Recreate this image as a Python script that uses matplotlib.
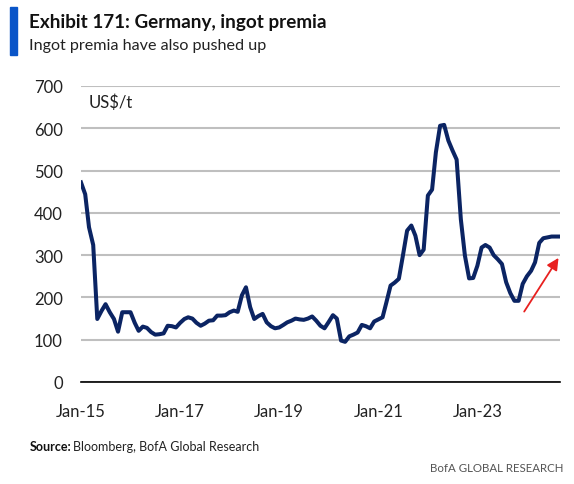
import matplotlib
matplotlib.use("Agg")
import matplotlib.pyplot as plt
from matplotlib.patches import Rectangle
import numpy as np
import pandas as pd

plt.rcParams['font.family'] = ['Lato', 'DejaVu Sans']

dates = pd.date_range("2015-01-01", periods=117, freq="MS")
premia = [472, 444, 366, 324, 149, 168, 184, 165, 149, 119,
          165, 165, 165, 140, 121, 131, 128, 118, 112, 113,
          115, 133, 132, 129, 140, 149, 153, 150, 140, 133,
          138, 145, 146, 157, 157, 158, 165, 169, 166, 205,
          224, 177, 149, 156, 161, 141, 132, 127, 129, 135,
          141, 145, 150, 148, 147, 150, 155, 145, 133, 127,
          142, 158, 150, 98, 95, 108, 112, 117, 135, 132,
          127, 143, 148, 153, 188, 228, 235, 244, 299, 358,
          370, 346, 300, 313, 441, 455, 543, 606, 608, 571,
          548, 526, 385, 299, 245, 246, 275, 318, 324, 318,
          300, 290, 279, 236, 210, 192, 192, 232, 250, 263,
          283, 329, 340, 342, 344, 344, 344]
yticks = [0, 100, 200, 300, 400, 500, 600, 700]
xtick_dates = ["2015-01-01", "2017-01-01", "2019-01-01", "2021-01-01", "2023-01-01"]
xtick_labels = ["Jan-15", "Jan-17", "Jan-19", "Jan-21", "Jan-23"]
arrow_start = ("2023-12-01", 161)
arrow_end = ("2024-09-01", 299)

fig = plt.figure(figsize=(5.74, 4.85), dpi=100)
ax = fig.add_axes([81/574, 1-383/485, (560-81)/574, (383-87)/485])

ax.plot(dates, premia, color="#0b2463", lw=2.9, solid_joinstyle="round", zorder=3)
ax.set_ylim(0, 700)
ax.set_xlim(dates[0], dates[-1])
ax.set_yticks(yticks)
ax.set_xticks(pd.to_datetime(xtick_dates))
ax.set_xticklabels(xtick_labels)
ax.grid(axis="y", color="#bfbfbf", lw=1.5, zorder=0)
ax.grid(axis="x", visible=False)
for s in ["top", "right", "left"]:
    ax.spines[s].set_visible(False)
ax.spines["bottom"].set_color("black")
ax.spines["bottom"].set_linewidth(1.2)
ax.tick_params(axis="both", length=0, labelsize=12, colors="#222222")
ax.tick_params(axis="y", pad=13)
ax.tick_params(axis="x", pad=15)
ax.text(0.015, 0.975, "US$/t", transform=ax.transAxes, fontsize=12, va="top", color="#222222")

ax.annotate("", xy=(pd.Timestamp(arrow_end[0]), arrow_end[1]),
            xytext=(pd.Timestamp(arrow_start[0]), arrow_start[1]),
            arrowprops=dict(arrowstyle="-|>,head_length=0.7,head_width=0.35", color="#e8201f", lw=1.3),
            zorder=4, annotation_clip=False)

fig.patches.append(Rectangle((10/574, 1-56/485), 7/574, 48/485, transform=fig.transFigure,
                             color="#0a55c8", figure=fig))
fig.text(29/574, 1-28/485, "Exhibit 171: Germany, ingot premia", fontsize=13.6, fontweight="bold",
         va="baseline", color="#111111")
fig.text(29/574, 1-50/485, "Ingot premia have also pushed up", fontsize=11.6, va="baseline", color="#222222")
fig.text(30/574, 1-451/485, "Source:", fontsize=9, fontweight="bold", va="baseline", color="#111111")
fig.text(73/574, 1-451/485, "Bloomberg, BofA Global Research", fontsize=9, va="baseline", color="#222222")
fig.text(563/574, 1-472/485, "BofA GLOBAL RESEARCH", fontsize=8.3, va="baseline", ha="right", color="#555555")

fig.savefig("out.png", dpi=100)
